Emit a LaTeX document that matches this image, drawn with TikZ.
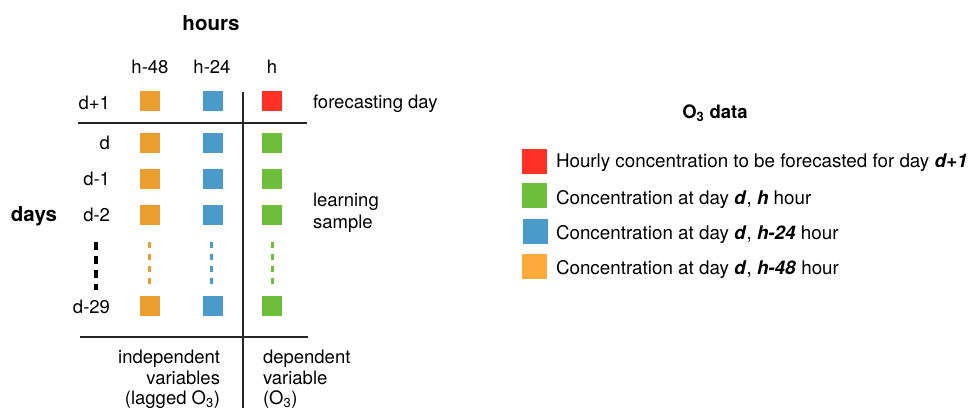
\documentclass[tikz,border=0pt]{standalone}
\usepackage{fontspec}
\setmainfont{TeX Gyre Heros}
\begin{document}
\definecolor{cOrange}{HTML}{EB9E30}
\definecolor{cOrangeL}{HTML}{FDA93B}
\definecolor{cBlue}{HTML}{4A9BC9}
\definecolor{cRed}{HTML}{FF3124}
\definecolor{cGreen}{HTML}{6DBE3A}
\begin{tikzpicture}[x=1pt,y=-1pt,
  every node/.style={inner sep=0pt,outer sep=0pt,font=\fontsize{18.5}{22}\selectfont},
  cell/.style={minimum size=20pt,inner sep=0pt,fill=#1},
  key/.style={minimum size=25pt,inner sep=0pt,fill=#1},
  lbl/.style={anchor=base},
  lblR/.style={anchor=base east},
  lblL/.style={anchor=base west},
  ttl/.style={anchor=base,font=\fontsize{20.5}{24}\selectfont\bfseries},
  rule/.style={line width=1.1pt,black!85},
  dots/.style={line width=3pt,draw=#1,dash pattern=on 6pt off 6pt},
  legtext/.style={anchor=base west,font=\fontsize{18.8}{22}\selectfont}
]
\useasboundingbox (0,0) rectangle (968,410);

% axis titles
\node[ttl] (hours) at (211,30) {hours};
\node[ttl] (days) at (34,221) {days};

% column headers
\node[lbl] (c48) at (150,73) {h-48};
\node[lbl] (c24) at (212,73) {h-24};
\node[lbl] (ch)  at (272,73) {h};

% row labels
\node[lblR] (rd1)  at (110,109) {d+1};
\node[lblR] (rd)   at (110,149) {d};
\node[lblR] (rdm1) at (110,185) {d-1};
\node[lblR] (rdm2) at (110,221) {d-2};
\node[lblR] (rd29) at (110,313) {d-29};

% data cells
\foreach \y/\n in {101/a,143/b,179/c,215/e,306/z}{
  \node[cell=cOrange] (o\n) at (150,\y) {};
  \node[cell=cBlue]   (b\n) at (213,\y) {};
}
\node[cell=cRed]   (ga) at (272,101) {};
\foreach \y/\n in {143/b,179/c,215/e,306/z}{
  \node[cell=cGreen] (g\n) at (272,\y) {};
}

% ellipsis columns
\coordinate (k1) at (96,242);  \coordinate (k2) at (96,290);
\coordinate (o1) at (149,242); \coordinate (o2) at (149,288);
\coordinate (b1) at (211,242); \coordinate (b2) at (211,288);
\coordinate (g1) at (272,242); \coordinate (g2) at (272,288);
\draw[line width=4pt,draw=black,dash pattern=on 8pt off 6pt] (k1) -- (k2);
\draw[dots=cOrange] (o1) -- (o2);
\draw[dots=cBlue]   (b1) -- (b2);
\draw[dots=cGreen]  (g1) -- (g2);

% separating rules
\coordinate (h1a) at (78,123);  \coordinate (h1b) at (307,123);
\coordinate (h2a) at (80,337);  \coordinate (h2b) at (308,337);
\coordinate (va)  at (243,92);  \coordinate (vb)  at (243,408);
\draw[rule] (h1a) -- (h1b);
\draw[rule] (h2a) -- (h2b);
\draw[rule] (va) -- (vb);

% row group captions
\node[lblL] (fday) at (313,108) {forecasting day};
\node[lblL] (learn1) at (313,206) {learning};
\node[lblL] (learn2) at (313,228) {sample};

% column group captions
\node[lblR] (ind1) at (220,363) {independent};
\node[lblR] (ind2) at (220,384) {variables};
\node[lblR] (ind3) at (220,404) {(lagged O\textsubscript{3})};
\node[lblL] (dep1) at (263,363) {dependent};
\node[lblL] (dep2) at (263,384) {variable};
\node[lblL] (dep3) at (263,404) {(O\textsubscript{3})};

% legend
\node[ttl,font=\fontsize{18.5}{22}\selectfont\bfseries] (legtitle) at (715,118) {O\textsubscript{3} data};
\node[key=cRed]     (kr) at (534.5,161.5) {};
\node[key=cGreen]   (kg) at (534.5,195.5) {};
\node[key=cBlue]    (kb) at (535,231.5) {};
\node[key=cOrangeL] (ko) at (534.5,266.5) {};
\node[legtext] (tr) at (556,167) {Hourly concentration to be forecasted for day \textbf{\textit{d+1}}};
\node[legtext] (tg) at (556,204) {Concentration at day \textbf{\textit{d}}, \textbf{\textit{h}} hour};
\node[legtext] (tb) at (556,239) {Concentration at day \textbf{\textit{d}}, \textbf{\textit{h-24}} hour};
\node[legtext] (to) at (556,274) {Concentration at day \textbf{\textit{d}}, \textbf{\textit{h-48}} hour};
\end{tikzpicture}
\end{document}
